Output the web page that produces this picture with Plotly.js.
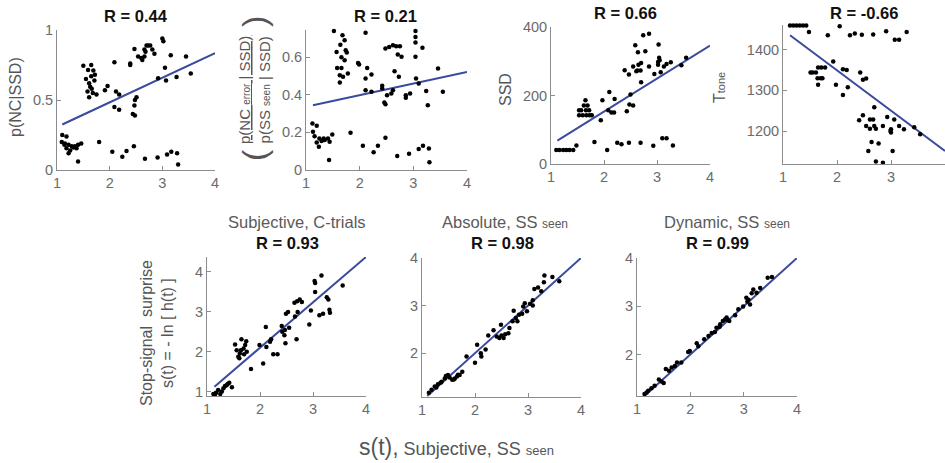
<!DOCTYPE html>
<html><head><meta charset="utf-8">
<script src="https://cdn.plot.ly/plotly-3.0.1.min.js"></script>
<style>html,body{margin:0;padding:0;background:#fff}#chart{width:945px;height:463px}</style>
</head><body><div id="chart"></div>
<script>
// ---------------- data ----------------
var xTicks = [1, 2, 3, 4];
var panelTitles = ["R = 0.44", "R = 0.21", "R = 0.66", "R = -0.66", "R = 0.93", "R = 0.98", "R = 0.99"];
var panelSubtitles = ["Subjective, C-trials", "Absolute, SS <span style='font-size:12px'>seen</span>", "Dynamic, SS <span style='font-size:12px'>seen</span>"];

var p1x = [1.10,1.18,1.09,1.15,1.22,1.28,1.18,1.25,1.22,1.34,1.37,1.46,1.40,1.31,1.14,1.40,1.80,2.05,2.24,2.32,2.46,2.67,2.91,3.09,3.17,3.28,3.30,
  1.50,1.65,1.59,1.69,1.72,1.55,1.65,1.61,1.71,1.63,1.66,1.58,1.75,1.61,1.68,2.09,1.91,1.96,2.12,2.18,2.09,2.18,2.39,2.39,2.47,2.54,2.60,2.62,2.66,2.70,2.77,2.68,2.81,2.85,2.66,2.51,2.48,2.47,2.44,2.48,3.00,3.02,3.16,3.45,3.05,2.92,3.07,3.27,3.54,2.73];
var p1y = [0.25,0.24,0.20,0.19,0.18,0.17,0.155,0.14,0.12,0.17,0.155,0.19,0.18,0.16,0.18,0.06,0.20,0.13,0.095,0.135,0.17,0.08,0.09,0.11,0.13,0.12,0.04,
  0.745,0.75,0.715,0.71,0.68,0.65,0.67,0.62,0.64,0.595,0.58,0.56,0.54,0.52,0.55,0.77,0.57,0.60,0.56,0.54,0.45,0.43,0.75,0.76,0.865,0.81,0.80,0.785,0.86,0.89,0.89,0.845,0.86,0.83,0.81,0.52,0.50,0.46,0.40,0.39,0.94,0.92,0.82,0.81,0.73,0.655,0.64,0.665,0.69,0.89];
var fit1x = [1.1, 4], fit1y = [0.325, 0.835];

var p2x = [1.12,1.20,1.13,1.16,1.25,1.20,1.29,1.35,1.24,1.41,1.44,1.49,1.33,1.43,1.83,2.06,2.26,2.34,2.48,2.70,2.92,3.10,3.18,3.29,3.30,
  1.52,1.68,1.72,1.64,1.57,1.74,1.76,1.66,1.72,1.58,1.66,1.78,1.63,1.69,1.63,
  1.97,1.99,2.11,2.14,2.22,2.11,2.11,2.22,2.42,2.42,2.46,2.48,2.48,2.55,2.62,2.68,2.75,2.71,2.78,2.65,2.73,2.62,2.51,2.59,2.86,2.86,2.94,3.04,3.04,3.04,3.17,3.04,3.05,3.10,3.24,3.27,3.46,3.55];
var p2y = [0.248,0.235,0.204,0.18,0.168,0.147,0.154,0.159,0.124,0.168,0.150,0.189,0.168,0.053,0.198,0.129,0.094,0.129,0.172,0.074,0.087,0.112,0.129,0.115,0.041,
  0.74,0.717,0.69,0.667,0.628,0.637,0.625,0.60,0.584,0.543,0.543,0.513,0.504,0.496,0.465,
  0.570,0.561,0.731,0.543,0.508,0.487,0.425,0.416,0.448,0.434,0.359,0.350,0.646,0.655,0.664,0.658,0.658,0.614,0.602,0.526,0.496,0.425,0.398,0.407,0.398,0.384,0.407,0.74,0.708,0.678,0.65,0.602,0.487,0.46,0.42,0.345,0.54,0.416];
var fit2x = [1.13, 4], fit2y = [0.345, 0.522];

var p3x = [1.10,1.16,1.23,1.29,1.35,1.42,1.48,1.82,2.06,2.25,2.33,2.47,2.69,2.93,3.10,3.18,3.30,
  1.53,1.57,1.62,1.65,1.69,1.53,1.60,1.67,1.73,1.77,1.66,1.72,
  1.94,1.97,2.10,2.08,2.14,2.19,2.20,2.43,2.48,2.55,2.50,2.39,2.47,2.55,2.61,2.65,2.59,2.64,2.74,2.85,2.78,2.70,2.63,2.69,2.70,2.85,2.95,3.02,3.02,3.03,3.07,3.13,3.18,3.26,3.46,3.55,3.04,3.05];
var p3y = [41,41,41,41,41,41,54,64,41,62,58,62,62,53,75,75,54,
  157,157,171,186,171,142,142,142,142,142,157,157,
  128,186,210,157,150,150,190,154,174,171,203,274,261,285,271,290,347,326,376,380,329,239,273,273,295,285,263,298,290,349,268,285,292,297,288,310,310,303];
var fit3x = [1.12, 4], fit3y = [68, 346];

var p4x = [1.13,1.19,1.25,1.31,1.37,1.43,1.48,1.83,2.05,2.24,2.33,2.46,2.67,2.91,3.07,3.15,3.29,
  1.55,1.61,1.65,1.71,1.78,1.64,1.70,1.65,1.73,1.51,1.93,1.98,2.11,2.18,2.11,2.20,2.43,2.48,2.54,2.69,2.48,2.41,2.61,2.67,2.54,2.61,2.69,2.72,2.85,2.93,3.06,3.00,3.00,2.99,3.15,3.24,3.43,3.54,2.64,2.77,2.58,3.03,2.72,2.85];
var p4y = [1459,1459,1459,1459,1459,1459,1443,1435,1457,1435,1439,1436,1437,1445,1424,1424,1443,
  1344,1344,1356,1356,1356,1330,1330,1314,1330,1344,1371,1314,1352,1350,1289,1308,1344,1326,1329,1259,1239,1227,1229,1229,1213,1206,1213,1206,1213,1235,1229,1205,1197,1201,1213,1205,1210,1193,1174,1170,1152,1152,1126,1123];
var fit4x = [1.13, 4], fit4y = [1435, 1152];

var p5x = [1.12,1.17,1.25,1.21,1.28,1.34,1.39,1.42,1.47,1.31,1.15,1.37,
  1.53,1.56,1.59,1.62,1.65,1.69,1.72,1.75,1.70,1.64,1.74,1.61,
  1.83,1.99,2.06,2.11,2.12,2.19,2.21,2.25,2.33,2.41,2.42,2.47,2.46,2.48,2.49,2.53,2.55,2.65,2.70,2.75,2.66,2.71,2.69,2.79,2.93,2.96,3.03,3.04,3.04,3.12,3.19,3.16,3.26,3.29,3.31,3.32,3.56];
var p5y = [0.95,0.98,0.95,1.05,1.01,1.15,1.20,1.23,1.12,1.09,0.93,1.17,
  2.18,2.04,1.88,1.96,2.31,2.08,2.17,2.00,1.94,2.04,2.26,1.84,
  1.57,2.17,1.71,2.62,2.12,2.25,2.31,1.94,1.94,2.64,2.50,2.54,2.41,2.21,2.95,2.99,2.60,3.22,3.26,3.30,2.88,2.99,2.31,3.24,2.68,3.03,3.76,3.71,3.49,2.91,2.95,3.90,3.36,3.30,3.05,2.97,3.65];
var fit5x = [1.14, 4], fit5y = [1.13, 4.36];

var p6x = [1.13,1.18,1.24,1.30,1.37,1.43,1.49,1.52,1.57,1.62,1.66,1.71,1.76,1.84,2.00,2.04,2.11,2.12,2.20,2.25,2.35,2.41,2.46,2.50,2.49,2.54,2.57,2.65,2.63,2.71,
  2.73,2.77,2.80,2.89,2.94,2.98,3.04,3.09,3.09,3.12,3.19,3.25,3.30,3.31,3.46,3.59,2.91,2.83,1.27,1.35,1.45,1.60,1.68];
var p6y = [1.17,1.23,1.30,1.35,1.40,1.47,1.54,1.49,1.44,1.47,1.51,1.54,1.61,1.93,1.80,2.18,2.00,1.93,2.08,2.37,2.48,2.35,2.32,2.37,2.60,2.32,2.40,2.53,2.42,2.67,
  2.89,2.74,2.67,2.83,3.05,2.88,3.04,3.11,3.00,3.35,3.38,3.30,3.49,3.63,3.60,3.51,2.98,2.81,1.28,1.38,1.52,1.45,1.55];
var fit6x = [1.1, 4], fit6y = [1.1, 4.0];

var p7x = [1.14,1.21,1.27,1.33,1.41,1.46,1.54,1.60,1.65,1.71,1.75,1.83,1.96,1.99,2.12,2.15,2.26,2.34,2.40,2.46,2.49,2.56,2.61,2.65,2.68,2.73,2.84,2.90,2.99,3.05,3.09,3.12,3.15,3.18,3.24,3.31,3.45,3.53,1.18,1.50,2.55,2.70,3.07];
var p7y = [1.19,1.26,1.31,1.36,1.49,1.45,1.71,1.67,1.74,1.77,1.84,1.84,2.06,2.08,2.24,2.18,2.32,2.39,2.45,2.47,2.56,2.63,2.70,2.73,2.77,2.70,2.82,2.94,3.00,3.18,3.14,3.04,3.27,3.35,3.28,3.38,3.59,3.61,1.22,1.42,2.58,2.72,3.10];
var fit7x = [1.12, 4], fit7y = [1.13, 4.0];

// ---------------- layout helpers ----------------
var W = 945, H = 463;
function fx(px){ return px / W; }
function fy(py){ return 1 - py / H; }
var FONT = "Arial, 'Liberation Sans', sans-serif";
var AX = "#8c8c8c", TICKC = "#6b6b6b", LINEC = "#3a4a9c";

// panel boxes in pixels: [left, right, top, bottom]
var boxes = [
  [57, 215, 30, 170],
  [306, 467, 30, 170],
  [551, 710, 27, 164],
  [783, 945, 25, 164],
  [207, 366, 257, 396],
  [422, 581, 258, 397],
  [637, 797, 258, 396]
];
var yRanges = [[0, 1], [0, 0.745], [0, 400], [1120, 1460], [0.9, 4.36], [1.08, 4], [1.15, 4]];
var yTicks = [[0, 0.5, 1], [0, 0.2, 0.4, 0.6], [0, 200, 400], [1200, 1300, 1400], [1, 2, 3, 4], [2, 3, 4], [2, 3, 4]];
var yTickText = [["0", "0.5", "1"], ["0", "0.2", "0.4", "0.6"], ["0", "200", "400"], ["1200", "1300", "1400"], ["1", "2", "3", "4"], ["2", "3", "4"], ["2", "3", "4"]];

var pts = [[p1x, p1y], [p2x, p2y], [p3x, p3y], [p4x, p4y], [p5x, p5y], [p6x, p6y], [p7x, p7y]];
var fits = [[fit1x, fit1y], [fit2x, fit2y], [fit3x, fit3y], [fit4x, fit4y], [fit5x, fit5y], [fit6x, fit6y], [fit7x, fit7y]];

var data = [];
var layout = {
  width: W, height: H, margin: {l: 0, r: 0, t: 0, b: 0},
  paper_bgcolor: "#fff", plot_bgcolor: "#fff", showlegend: false,
  font: {family: FONT, color: TICKC, size: 14.5},
  annotations: []
};

for (var i = 0; i < 7; i++) {
  var s = i === 0 ? "" : String(i + 1);
  var b = boxes[i];
  data.push({type: "scatter", mode: "lines", x: fits[i][0], y: fits[i][1], xaxis: "x" + s, yaxis: "y" + s,
    line: {color: LINEC, width: 2}, hoverinfo: "skip", cliponaxis: true});
  data.push({type: "scatter", mode: "markers", x: pts[i][0], y: pts[i][1], xaxis: "x" + s, yaxis: "y" + s,
    marker: {color: "#000", size: 4.5}, cliponaxis: false});
  var common = {showline: true, linecolor: AX, linewidth: 1, ticks: "inside", ticklen: 4, tickcolor: AX,
    showgrid: false, zeroline: false, tickfont: {family: FONT, size: 14.5, color: TICKC}, fixedrange: true};
  layout["xaxis" + s] = Object.assign({}, common, {domain: [fx(b[0]), fx(b[1])], range: [1, 4], tickvals: xTicks,
    anchor: "y" + s});
  layout["yaxis" + s] = Object.assign({}, common, {domain: [fy(b[3]), fy(b[2])], range: yRanges[i], tickvals: yTicks[i],
    ticktext: yTickText[i], anchor: "x" + s});
}

function ann(text, px, py, opts) {
  layout.annotations.push(Object.assign({text: text, x: fx(px), y: fy(py), xref: "paper", yref: "paper",
    showarrow: false, xanchor: "center", yanchor: "middle", font: {family: FONT, size: 16, color: "#555"}}, opts || {}));
}

// panel R titles
var rPos = [[136, 16], [385, 16], [625, 13], [864, 13], [287, 243], [503, 243], [717, 243]];
for (var k = 0; k < 7; k++) {
  ann("<b>" + panelTitles[k] + "</b>", rPos[k][0], rPos[k][1], {font: {family: FONT, size: 16.5, color: "#111"}});
}
var subPos = [[297, 222], [505, 222], [727, 222]];
for (var m = 0; m < 3; m++) {
  ann(panelSubtitles[m], subPos[m][0], subPos[m][1], {font: {family: FONT, size: 16.5, color: "#5a5a5a"}});
}

// y-axis labels
ann("p(NC|SSD)", 15, 97, {textangle: -90});
ann("<u>p(NC <span style='font-size:10px'>error</span> | SSD)</u><br>p(SS <span style='font-size:10px'>seen</span> | SSD)", 254, 90,
  {textangle: -90, font: {family: FONT, size: 15, color: "#555"}});
ann("(", 254, 155, {textangle: -90, font: {family: FONT, size: 34, color: "#555"}});
ann(")", 254, 22, {textangle: -90, font: {family: FONT, size: 34, color: "#555"}});
ann("SSD", 505, 90, {textangle: -90});
ann("T<span style='font-size:11px'>tone</span>", 719, 88, {textangle: -90});
ann("Stop-signal  surprise<br>s(t) = - ln [ h(t) ]", 157, 333, {textangle: -90, font: {family: FONT, size: 16, color: "#555"}});

// shared x title
ann("<span style='font-size:23px'>s(t),</span> Subjective, SS <span style='font-size:13px'>seen</span>", 456, 447,
  {font: {family: FONT, size: 18, color: "#555"}});

Plotly.newPlot("chart", data, layout, {displayModeBar: false, staticPlot: true});
</script>
</body></html>
